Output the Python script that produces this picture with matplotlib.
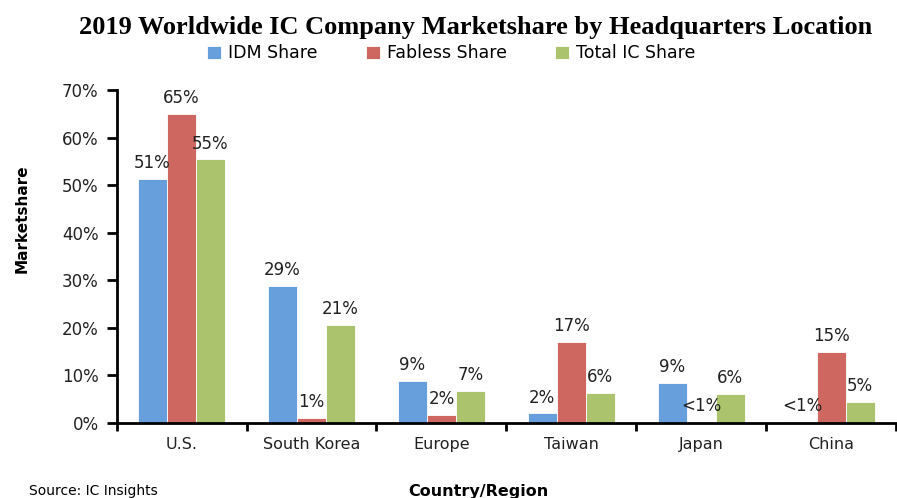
import numpy as np
import matplotlib.pyplot as plt

# data
regions = ["U.S.", "South Korea", "Europe", "Taiwan", "Japan", "China"]
idm_share = [51.3, 28.9, 8.8, 2.0, 8.5, 0.3]
fabless_share = [65.0, 1.0, 1.7, 17.0, 0.3, 15.0]
total_share = [55.4, 20.7, 6.8, 6.4, 6.1, 4.4]
idm_labels = ["51%", "29%", "9%", "2%", "9%", "<1%"]
fabless_labels = ["65%", "1%", "2%", "17%", "<1%", "15%"]
total_labels = ["55%", "21%", "7%", "6%", "6%", "5%"]
series_names = ["IDM Share", "Fabless Share", "Total IC Share"]
colors = ["#669FDC", "#CE6760", "#AAC36C"]

fig = plt.figure(figsize=(8.97, 4.98), dpi=100)
ax = fig.add_axes([0.130, 0.1506, 0.869, 0.6687])

x = np.arange(len(regions))
width = 0.223
series = [
    (idm_share, idm_labels),
    (fabless_share, fabless_labels),
    (total_share, total_labels),
]
handles = []
for i, (vals, labs) in enumerate(series):
    bars = ax.bar(x + (i - 1) * width, vals, width, color=colors[i],
                  edgecolor="white", linewidth=0.6, label=series_names[i])
    handles.append(bars)
    for b, lab in zip(bars, labs):
        ax.annotate(lab, (b.get_x() + b.get_width() / 2, b.get_height()),
                    xytext=(0, 5), textcoords="offset points",
                    ha="center", va="bottom", fontsize=12, color="#222222")

ax.set_xlim(-0.5, len(regions) - 0.5)
ax.set_ylim(0, 70)
ax.set_yticks(np.arange(0, 71, 10))
ax.set_yticklabels([f"{v}%" for v in range(0, 71, 10)], fontsize=12, color="#222222")

# category labels in the middle, ticks on the group boundaries
ax.set_xticks(x)
ax.set_xticklabels(regions, fontsize=11.5, color="#222222")
ax.tick_params(axis="x", length=0, pad=10)
ax.set_xticks(np.arange(-0.5, len(regions)), minor=True)
ax.tick_params(axis="x", which="minor", length=6, width=2, direction="out")
ax.tick_params(axis="y", length=7, width=2, direction="out", pad=6)

for side in ["top", "right"]:
    ax.spines[side].set_visible(False)
ax.spines["left"].set_linewidth(2)
ax.spines["bottom"].set_linewidth(2)

ax.set_ylabel("Marketshare", fontsize=11, fontweight="bold")
ax.yaxis.set_label_coords(-0.112, 0.615)

fig.text(0.53, 0.945, "2019 Worldwide IC Company Marketshare by Headquarters Location",
         ha="center", va="center", fontsize=19, fontweight="bold",
         family="Liberation Serif")
fig.legend(handles=handles, labels=series_names, loc="center",
           bbox_to_anchor=(0.503, 0.893), ncol=3, frameon=False, fontsize=12.5,
           handlelength=0.8, handleheight=0.8, handletextpad=0.4, columnspacing=2.8)

fig.text(0.533, 0.014, "Country/Region", ha="center", va="center",
         fontsize=11.5, fontweight="bold")
fig.text(0.032, 0.014, "Source: IC Insights", ha="left", va="center", fontsize=10)

fig.savefig("out.png", dpi=100)
